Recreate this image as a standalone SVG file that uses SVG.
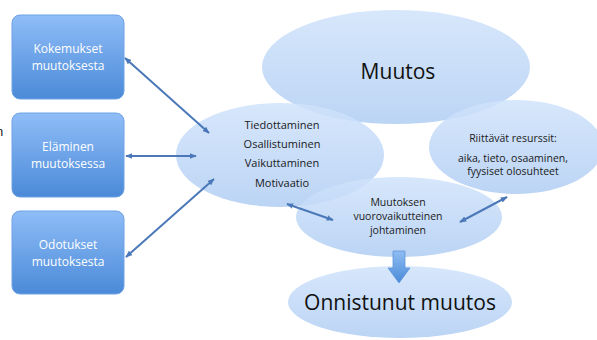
<svg xmlns="http://www.w3.org/2000/svg" width="597" height="340" viewBox="0 0 597 340">
<defs>
<linearGradient id="boxg" x1="0" y1="0" x2="0" y2="1">
<stop offset="0" stop-color="#8fbdf7"/>
<stop offset="1" stop-color="#4b8ad8"/>
</linearGradient>
<linearGradient id="ellg" x1="0" y1="0" x2="0" y2="1">
<stop offset="0" stop-color="#d0e3fb"/>
<stop offset="1" stop-color="#b0cdf3"/>
</linearGradient>
<linearGradient id="arrg" x1="0" y1="0" x2="0" y2="1">
<stop offset="0" stop-color="#8fbdf2"/>
<stop offset="1" stop-color="#4a8ad8"/>
</linearGradient>
<marker id="ah" viewBox="0 0 10 10" refX="9" refY="5" markerWidth="7" markerHeight="7" orient="auto-start-reverse" markerUnits="userSpaceOnUse">
<path d="M0,1 L10,5 L0,9 Z" fill="#4a78b8"/>
</marker>
</defs>
<style>
.box{fill:url(#boxg);stroke:#6fa2e6;stroke-width:1}
.ell{fill:url(#ellg);fill-opacity:0.85}
.bt{font-family:"Open Sans","Liberation Sans",sans-serif;font-size:12px;fill:#ffffff;text-anchor:middle}
.et{font-family:"Open Sans","Liberation Sans",sans-serif;font-size:11px;fill:#1a1a1a;text-anchor:middle}
.st{font-family:"Open Sans","Liberation Sans",sans-serif;font-size:10.5px;fill:#1a1a1a;text-anchor:middle}
.big{font-family:"Open Sans","Liberation Sans",sans-serif;font-size:21px;fill:#111111;text-anchor:middle}
.con{stroke:#4a78b8;stroke-width:2;fill:none;marker-start:url(#ah);marker-end:url(#ah)}
</style>
<rect width="597" height="340" fill="#ffffff"/>
<text x="-4" y="136" style="font-family:'Liberation Sans',sans-serif;font-size:13px;fill:#222">n</text>

<g id="kokemukset">
<rect class="box" x="12" y="15" width="112" height="84" rx="8"/>
<text class="bt" x="68" y="53">Kokemukset</text>
<text class="bt" x="68" y="70">muutoksesta</text>
</g>
<g id="elaminen">
<rect class="box" x="12" y="113" width="112" height="84" rx="8"/>
<text class="bt" x="68" y="151">Eläminen</text>
<text class="bt" x="68" y="168">muutoksessa</text>
</g>
<g id="odotukset">
<rect class="box" x="12" y="211" width="112" height="83" rx="8"/>
<text class="bt" x="68" y="249">Odotukset</text>
<text class="bt" x="68" y="266">muutoksesta</text>
</g>

<g id="muutos">
<ellipse class="ell" cx="396" cy="67" rx="134" ry="57"/>
<text class="big" x="398" y="79">Muutos</text>
</g>
<g id="tiedottaminen">
<ellipse class="ell" cx="280" cy="155" rx="104" ry="52"/>
<text class="et" x="282" y="129">Tiedottaminen</text>
<text class="et" x="282" y="148">Osallistuminen</text>
<text class="et" x="282" y="167">Vaikuttaminen</text>
<text class="et" x="282" y="187">Motivaatio</text>
</g>
<g id="resurssit">
<ellipse class="ell" cx="516" cy="147" rx="87" ry="47"/>
<text class="st" x="513" y="142">Riittävät resurssit:</text>
<text class="st" x="513" y="162">aika, tieto, osaaminen,</text>
<text class="st" x="513" y="175">fyysiset olosuhteet</text>
</g>
<g id="johtaminen">
<ellipse class="ell" cx="399" cy="217" rx="103" ry="40"/>
<text class="st" x="398" y="206">Muutoksen</text>
<text class="st" x="398" y="220">vuorovaikutteinen</text>
<text class="st" x="398" y="234">johtaminen</text>
</g>
<g id="onnistunut">
<ellipse class="ell" cx="400" cy="302" rx="112" ry="36"/>
<text class="big" x="400" y="310">Onnistunut muutos</text>
</g>

<g id="connectors">
<line class="con" x1="125" y1="58" x2="209" y2="133"/>
<line class="con" x1="126" y1="156" x2="196" y2="156"/>
<line class="con" x1="126" y1="257" x2="214" y2="179"/>
<line class="con" x1="287" y1="204" x2="333" y2="220"/>
<line class="con" x1="460" y1="222" x2="507" y2="197"/>
<path d="M393,251 L405,251 L405,268 L410,268 L399,283 L388,268 L393,268 Z" fill="url(#arrg)" stroke="#5f95dc" stroke-width="0.8"/>
</g>
</svg>
